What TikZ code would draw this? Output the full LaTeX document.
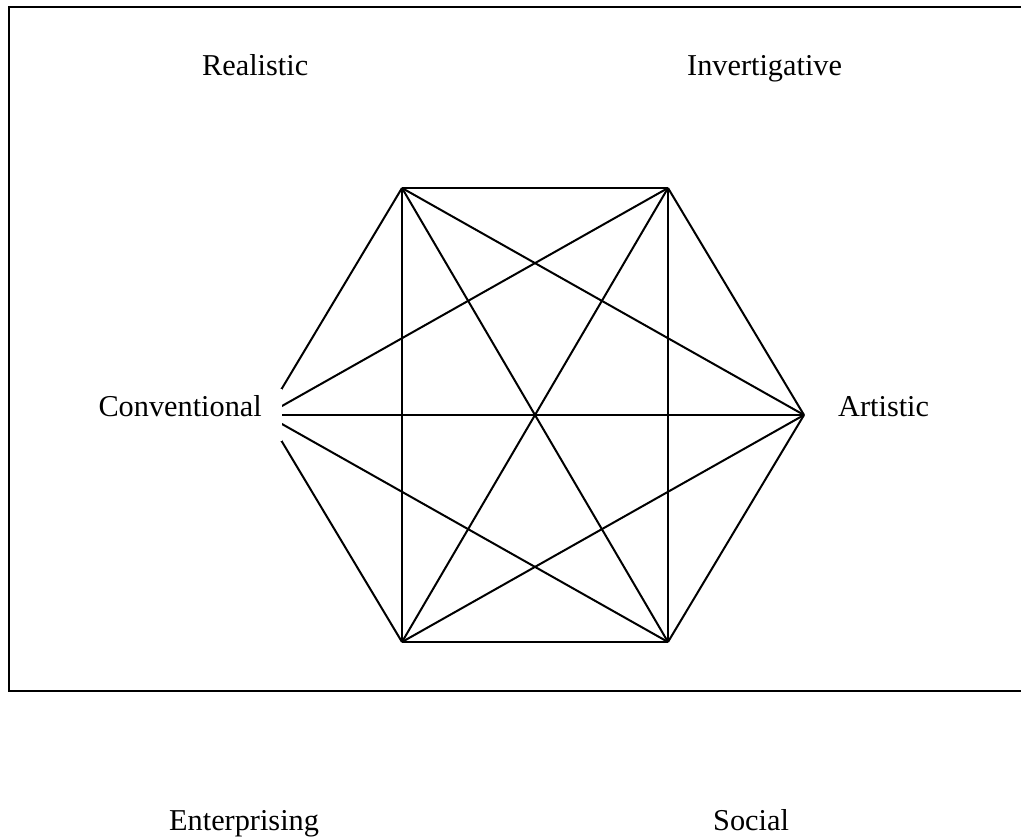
\documentclass[tikz,border=0pt]{standalone}
\usepackage{fontspec}
\setmainfont{Liberation Serif}
\begin{document}
\begin{tikzpicture}[x=1pt,y=-1pt,
  label/.style={inner sep=0pt,font=\fontsize{30.3}{36}\selectfont},
  link/.style={line width=2pt,line join=miter},
  frame/.style={line width=2.4pt}]
\useasboundingbox (0,0) rectangle (1021,838);
% outer frame, running off the right edge
\begin{scope}
\clip (0,0) rectangle (1021,838);
\draw[frame] (9,7) rectangle (1040,691);
\end{scope}
% hexagon corners
\coordinate (tl) at (402,188);
\coordinate (tr) at (668,188);
\coordinate (r)  at (804,415);
\coordinate (br) at (668,642);
\coordinate (bl) at (402,642);
\coordinate (l)  at (266,415);
% every pair of corners joined
\foreach \a/\b in {tl/tr,tl/r,tl/br,tl/bl,tl/l,
                   tr/r,tr/br,tr/bl,tr/l,
                   r/br,r/bl,r/l,
                   br/bl,br/l,
                   bl/l}
  \draw[link] (\a) -- (\b);
% labels
\node[label,anchor=base west] (real) at (202,75) {Realistic};
\node[label,anchor=base west] (inv) at (687,75) {Invertigative};
\node[label,anchor=base east,fill=white,inner xsep=20pt,inner ysep=6pt,
      text height=21pt,text depth=19pt] (conv) at (282,416) {Conventional};
\node[label,anchor=base west] (art) at (838,416) {Artistic};
\node[label,anchor=base west] (ent) at (169,830) {Enterprising};
\node[label,anchor=base west] (soc) at (713,830) {Social};
\end{tikzpicture}
\end{document}
